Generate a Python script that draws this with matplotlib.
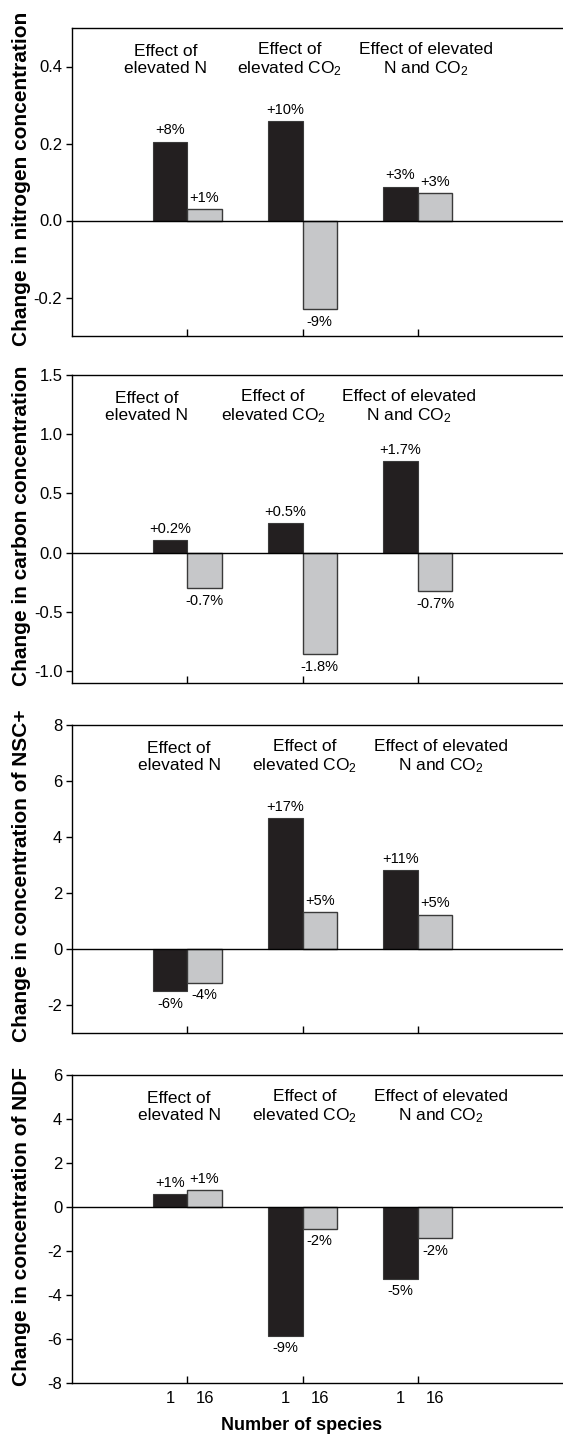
import matplotlib
matplotlib.use("Agg")
import matplotlib.pyplot as plt
import numpy as np

plt.rcParams['font.family'] = ['Liberation Sans', 'DejaVu Sans']
plt.rcParams['mathtext.default'] = 'regular'

# data
groups = ["Effect of\nelevated N", "Effect of\nelevated CO$_2$", "Effect of elevated\nN and CO$_2$"]
species = ["1", "16"]

ylabels = ["Change in nitrogen concentration",
           "Change in carbon concentration",
           "Change in concentration of NSC+",
           "Change in concentration of NDF"]

mono_vals = [[0.205, 0.258, 0.088],
             [0.106, 0.247, 0.771],
             [-1.51, 4.68, 2.83],
             [0.58, -5.86, -3.27]]
mix_vals = [[0.030, -0.230, 0.072],
            [-0.300, -0.856, -0.323],
            [-1.21, 1.32, 1.23],
            [0.76, -0.98, -1.41]]

mono_pct = [["+8%", "+10%", "+3%"],
            ["+0.2%", "+0.5%", "+1.7%"],
            ["-6%", "+17%", "+11%"],
            ["+1%", "-9%", "-5%"]]
mix_pct = [["+1%", "-9%", "+3%"],
           ["-0.7%", "-1.8%", "-0.7%"],
           ["-4%", "+5%", "+5%"],
           ["+1%", "-2%", "-2%"]]

ylims = [(-0.3, 0.5), (-1.1, 1.5), (-3, 8), (-8, 6)]
yticks = [[-0.2, 0.0, 0.2, 0.4],
          [-1.0, -0.5, 0.0, 0.5, 1.0, 1.5],
          [-2, 0, 2, 4, 6, 8],
          [-8, -6, -4, -2, 0, 2, 4, 6]]
yfmt = ["{:.1f}", "{:.1f}", "{:.0f}", "{:.0f}"]

# layout
W, H = 563, 1436
ax_left, ax_right = 72, 563
ax_tops = [28, 375, 725, 1075]
ax_h = 308
header_x = [[0.81, 1.89, 3.07],
            [0.65, 1.745, 2.92],
            [0.93, 2.02, 3.2],
            [0.93, 2.02, 3.2]]

black = "#231f20"
grey = "#c6c7c9"
edge = "#3a3a3a"
bw = 0.3
centers = np.arange(1, 4)

fig = plt.figure(figsize=(W / 100, H / 100), dpi=100)

for i in range(4):
    top = ax_tops[i]
    ax = fig.add_axes([ax_left / W, 1 - (top + ax_h) / H, (ax_right - ax_left) / W, ax_h / H])

    b1 = ax.bar(centers - bw / 2, mono_vals[i], width=bw, color=black, edgecolor=edge, linewidth=0.8, zorder=3)
    b2 = ax.bar(centers + bw / 2, mix_vals[i], width=bw, color=grey, edgecolor=edge, linewidth=1.0, zorder=3)
    ax.axhline(0, color="black", linewidth=1.0, zorder=4)

    for bars, labels in ((b1, mono_pct[i]), (b2, mix_pct[i])):
        for rect, lab in zip(bars, labels):
            v = rect.get_height() if rect.get_y() >= 0 else rect.get_y()
            xc = rect.get_x() + rect.get_width() / 2
            if v >= 0:
                ax.annotate(lab, (xc, v), xytext=(0, 3), textcoords="offset points",
                            ha="center", va="bottom", fontsize=10.5)
            else:
                ax.annotate(lab, (xc, v), xytext=(0, -4), textcoords="offset points",
                            ha="center", va="top", fontsize=10.5)

    for gx, g in zip(header_x[i], groups):
        ax.text(gx, 0.895, g, transform=ax.get_xaxis_transform(), ha="center", va="center",
                fontsize=12.5, linespacing=1.15)

    ax.set_xlim(0, 4.26)
    ax.set_ylim(*ylims[i])
    ax.set_yticks(yticks[i])
    ax.set_yticklabels([yfmt[i].format(t) for t in yticks[i]], fontsize=12)
    ax.tick_params(axis="y", direction="out", length=4, width=1, pad=3)

    ax.set_xticks(centers)
    ax.set_xticklabels([])
    ax.tick_params(axis="x", which="major", direction="in", length=5, width=1)
    if i == 3:
        ax.set_xticks(np.concatenate([centers - bw / 2, centers + bw / 2]), minor=True)
        ax.set_xticklabels(species[:1] * 3 + species[1:] * 3, minor=True, fontsize=12)
        ax.tick_params(axis="x", which="minor", length=0, pad=6)
    else:
        ax.set_xticks([], minor=True)

    ax.spines["right"].set_visible(False)
    for s in ("left", "top", "bottom"):
        ax.spines[s].set_linewidth(1.0)

    fig.text(22 / W, 1 - (top + ax_h / 2 - 3) / H, ylabels[i], rotation=90,
             ha="center", va="center", fontsize=15, fontweight="bold")

fig.text(302 / W, 1 - 1426 / H, "Number of species", ha="center", va="center",
         fontsize=13, fontweight="bold")

fig.savefig("out.png", dpi=100)
plt.close(fig)
